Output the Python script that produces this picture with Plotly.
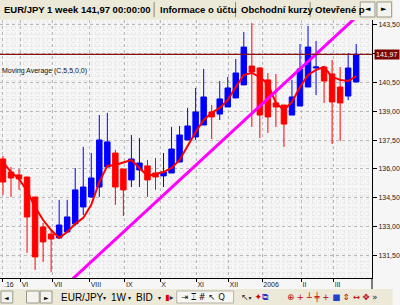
import plotly.graph_objects as go

# ---------------- data (weekly EUR/JPY candles) ----------------
week_idx = list(range(45))
opens  = [136.52, 135.84, 135.69, 135.58, 134.54, 132.98, 132.61, 132.41, 132.72, 133.14,
          134.02, 134.54, 135.06, 136.10, 136.83, 136.00, 135.43, 135.95, 136.16, 135.79,
          135.64, 135.79, 136.36, 137.51, 137.67, 138.29, 138.97, 138.86, 139.23, 139.70,
          140.38, 141.36, 141.26, 140.64, 139.44, 139.33, 138.81, 139.28, 140.27, 141.26,
          141.31, 140.95, 140.27, 139.80, 140.53]
highs  = [136.68, 136.10, 136.00, 135.58, 134.54, 133.19, 132.82, 134.39, 134.39, 136.05,
          137.15, 136.83, 138.81, 138.92, 136.99, 136.00, 137.77, 137.61, 136.47, 136.57,
          136.83, 138.19, 138.24, 139.18, 140.22, 141.21, 139.33, 140.58, 140.79, 141.73,
          143.14, 143.60, 141.31, 141.00, 140.95, 139.33, 140.64, 142.51, 143.45, 142.67,
          141.36, 141.68, 141.31, 142.04, 142.51]
lows   = [134.65, 134.54, 134.91, 131.63, 130.74, 131.16, 130.64, 132.35, 132.67, 133.03,
          133.60, 134.49, 134.54, 136.10, 134.13, 133.55, 135.06, 135.06, 134.54, 134.91,
          135.06, 135.79, 136.36, 137.51, 137.51, 138.29, 137.56, 138.55, 139.23, 139.70,
          140.38, 138.19, 137.61, 137.88, 138.19, 137.15, 138.81, 139.28, 140.27, 139.85,
          139.44, 137.30, 137.46, 139.59, 140.53]
closes = [135.32, 135.53, 135.48, 133.50, 131.42, 132.20, 132.35, 133.08, 133.50, 134.91,
          135.06, 135.53, 137.51, 137.41, 135.06, 134.91, 136.52, 136.31, 135.43, 135.58,
          135.84, 137.04, 137.77, 138.24, 138.97, 139.75, 138.71, 139.65, 140.22, 141.00,
          142.35, 141.05, 138.81, 138.71, 139.23, 138.34, 139.75, 141.21, 142.35, 141.31,
          140.58, 139.49, 139.44, 141.26, 141.97]
ma5    = [136.36, 135.84, 135.48, 134.85, 134.02, 133.34, 132.82, 132.41, 132.72, 133.14,
          133.45, 134.13, 135.32, 136.16, 136.21, 136.36, 136.47, 136.05, 135.64, 135.74,
          135.84, 136.05, 136.47, 137.20, 137.93, 138.55, 138.92, 139.18, 139.59, 140.27,
          140.90, 141.00, 140.79, 140.43, 139.44, 139.07, 139.49, 140.27, 140.90, 141.16,
          141.31, 140.79, 140.64, 140.58, 140.84]
last_price = 141.97
trend_idx = [8.0, 45.0]
trend_price = [130.01, 144.30]

month_pos = [0, 2.2, 6.2, 10.8, 15.2, 19.6, 24.1, 28.1, 32.3, 37.2, 41.2]
month_labels = [".16", "VI", "VII", "VIII", "IX", "X", "XI", "XII", "2006", "II", "III"]
price_ticks = [131.5, 133.0, 134.5, 136.0, 137.5, 139.0, 140.5, 142.0, 143.5]
price_labels = ["131,50", "133,00", "134,50", "136,00", "137,50", "139,00", "140,50", "", "143,50"]

tab_titles = ["EUR/JPY 1 week 141,97 00:00:00", "Informace o účtu", "Obchodní kurzy", "Otevřené p"]

# ---------------- geometry ----------------
W, H = 400, 305
ML, MR, MT, MB = 0, 21, 20, 27
PW, PH = W - ML - MR, H - MT - MB


def px(x):
    return (x - ML) / PW


def py(y):
    return (H - MB - y) / PH


FONT = "Liberation Sans"
fig = go.Figure()

fig.add_trace(go.Candlestick(
    x=week_idx, open=opens, high=highs, low=lows, close=closes,
    increasing=dict(line=dict(color="#0000ff", width=1), fillcolor="#0000ff"),
    decreasing=dict(line=dict(color="#ff0000", width=1), fillcolor="#ff0000"),
    whiskerwidth=0, showlegend=False, hoverinfo="skip",
))
fig.add_trace(go.Scatter(x=week_idx, y=ma5, mode="lines",
                         line=dict(color="#ff0000", width=2), showlegend=False, hoverinfo="skip"))
fig.add_trace(go.Scatter(x=trend_idx, y=trend_price, mode="lines",
                         line=dict(color="#ff00ff", width=3), showlegend=False, hoverinfo="skip"))

shapes = []
annotations = []

# horizontal last-price line
shapes.append(dict(type="line", xref="paper", yref="y", x0=0, x1=1, y0=last_price, y1=last_price,
                   line=dict(color="#8b1010", width=1.2), layer="above"))
annotations.append(dict(xref="paper", yref="y", x=px(381), y=last_price, xanchor="left", yanchor="middle",
                        text="141,97", showarrow=False, bgcolor="#7a0000",
                        font=dict(family=FONT, size=7, color="white"), borderpad=1))

# indicator label
annotations.append(dict(xref="paper", yref="paper", x=0, y=py(71), xanchor="left", yanchor="middle",
                        text="Moving Average (C,5,5,0,0)", showarrow=False,
                        font=dict(family=FONT, size=7, color="#111111")))

# vertical axis line extension through label row
shapes.append(dict(type="line", xref="paper", yref="paper", x0=1, x1=1, y0=py(278), y1=py(290),
                   line=dict(color="#000000", width=1)))

# ---------------- tab bar ----------------
shapes.append(dict(type="rect", xref="paper", yref="paper", x0=px(0), x1=px(400), y0=py(19.5), y1=py(0),
                   fillcolor="#ece9d8", line=dict(width=0), layer="above"))
tab_x = [2, 161, 243, 319]
for t, x in zip(tab_titles, tab_x):
    annotations.append(dict(xref="paper", yref="paper", x=px(x), y=py(9.5), xanchor="left", yanchor="middle",
                            text="<b>%s</b>" % t, showarrow=False,
                            font=dict(family=FONT, size=9.5, color="#000000")))
for sx in [157, 240, 316]:
    shapes.append(dict(type="line", xref="paper", yref="paper", x0=px(sx), x1=px(sx), y0=py(17), y1=py(2),
                       line=dict(color="#8a8778", width=1), layer="above"))
# arrow buttons (cover the clipped last tab)
for bx0, bx1, sym in [(367, 382, "◄"), (384, 399, "►")]:
    shapes.append(dict(type="rect", xref="paper", yref="paper", x0=px(bx0), x1=px(bx1), y0=py(17), y1=py(2),
                       fillcolor="#f4f3ee", line=dict(color="#9a988c", width=1), layer="above"))
    annotations.append(dict(xref="paper", yref="paper", x=px((bx0 + bx1) / 2), y=py(9.5), xanchor="center",
                            yanchor="middle", text=sym, showarrow=False,
                            font=dict(family="DejaVu Sans", size=7, color="#000000")))

# ---------------- bottom toolbar ----------------
shapes.append(dict(type="rect", xref="paper", yref="paper", x0=px(0), x1=px(400), y0=py(305), y1=py(289),
                   fillcolor="#ece9d8", line=dict(width=0), layer="above"))
for bx0, bx1, sym in [(1, 13, "◄"), (27, 40, ""), (41, 53, "►")]:
    shapes.append(dict(type="rect", xref="paper", yref="paper", x0=px(bx0), x1=px(bx1), y0=py(303), y1=py(291),
                       fillcolor="#f4f3ee", line=dict(color="#9a988c", width=1), layer="above"))
    if sym:
        annotations.append(dict(xref="paper", yref="paper", x=px((bx0 + bx1) / 2), y=py(297), xanchor="center",
                                yanchor="middle", text=sym, showarrow=False,
                                font=dict(family="DejaVu Sans", size=6, color="#000000")))
for txt, x in [("EUR/JPY", 60), ("1W", 111), ("BID", 137)]:
    annotations.append(dict(xref="paper", yref="paper", x=px(x), y=py(297), xanchor="left", yanchor="middle",
                            text=txt, showarrow=False, font=dict(family=FONT, size=10, color="#000000")))
for x in [103, 128, 159]:
    annotations.append(dict(xref="paper", yref="paper", x=px(x), y=py(297), xanchor="left", yanchor="middle",
                            text="▾", showarrow=False, font=dict(family="DejaVu Sans", size=6, color="#000000")))
annotations.append(dict(xref="paper", yref="paper", x=px(166), y=py(297), xanchor="left", yanchor="middle",
                        text="<span style='color:#e00000'>▮</span>▸", showarrow=False,
                        font=dict(family="DejaVu Sans", size=8, color="#333333")))
shapes.append(dict(type="rect", xref="paper", yref="paper", x0=px(180), x1=px(238), y0=py(303), y1=py(291),
                   fillcolor="#f7f6f2", line=dict(color="#b5b3a8", width=1), layer="above"))
annotations.append(dict(xref="paper", yref="paper", x=px(182), y=py(297), xanchor="left", yanchor="middle",
                        text="⇥ ⌶ # ↖ Q", showarrow=False,
                        font=dict(family="DejaVu Sans", size=8.5, color="#111111")))
annotations.append(dict(xref="paper", yref="paper", x=px(244), y=py(297), xanchor="left", yanchor="middle",
                        text="↖<span style='font-size:6px'>▾</span> <span style='color:#d00000'>✦</span>"
                             "<span style='color:#3030c0'>⧉</span>",
                        showarrow=False, font=dict(family="DejaVu Sans", size=9, color="#333333")))
annotations.append(dict(xref="paper", yref="paper", x=px(290), y=py(297), xanchor="left", yanchor="middle",
                        text="<span style='color:#c00000'>⊕ + ┴ ╪ +</span> <span style='color:#2040d0'>■</span>"
                             " <span style='color:#c00000'>⇕ ↔ ✥</span> »",
                        showarrow=False, font=dict(family="DejaVu Sans", size=8.5, color="#222222")))

fig.update_layout(
    width=W, height=H,
    margin=dict(l=ML, r=MR, t=MT, b=MB, pad=0),
    paper_bgcolor="#f6f6f6", plot_bgcolor="#f6f6f6",
    boxgap=0.32, boxgroupgap=0,
    shapes=shapes, annotations=annotations, showlegend=False,
    xaxis=dict(range=[-0.37, 45.97], rangeslider=dict(visible=False),
               tickmode="array", tickvals=month_pos, ticktext=month_labels,
               ticklabelposition="outside right", ticks="outside", ticklen=3, tickcolor="#000000",
               tickfont=dict(family=FONT, size=7, color="#222222"),
               showline=True, linecolor="#000000", linewidth=1,
               showgrid=True, gridcolor="#b8b8b8", griddash="dot", gridwidth=1, zeroline=False,
               minor=dict(dtick=0.5, tick0=0, showgrid=True, gridcolor="#e9e9e9", gridwidth=1)),
    yaxis=dict(range=[130.32, 143.76], side="right",
               tickmode="array", tickvals=price_ticks, ticktext=price_labels,
               ticks="outside", ticklen=4, tickcolor="#000000",
               tickfont=dict(family=FONT, size=7, color="#222222"),
               showline=True, linecolor="#000000", linewidth=1,
               showgrid=True, gridcolor="#b8b8b8", griddash="dot", gridwidth=1, zeroline=False,
               minor=dict(dtick=0.2, tick0=130, showgrid=True, gridcolor="#e9e9e9", gridwidth=1)),
)

fig.write_html("out.html")
